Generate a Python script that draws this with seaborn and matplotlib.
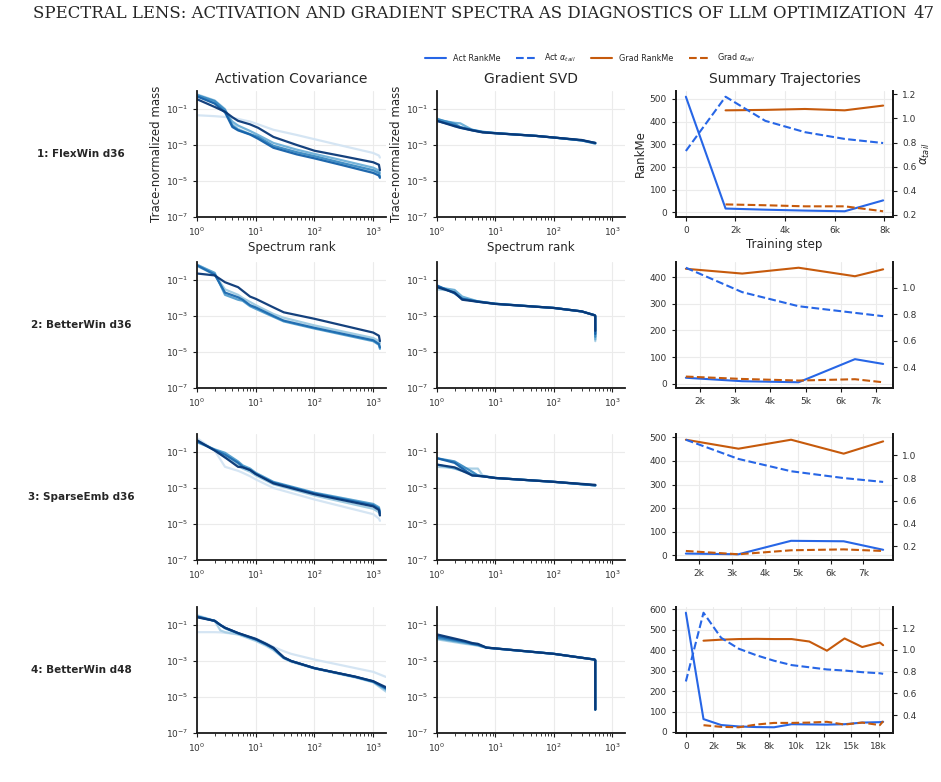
import numpy as np
import pandas as pd
import seaborn as sns
import matplotlib.pyplot as plt
from matplotlib.lines import Line2D
from matplotlib.ticker import FuncFormatter, NullLocator, MultipleLocator

# ==========================================
# Data
# ==========================================

ROW_LABELS = ["1: FlexWin d36", "2: BetterWin d36", "3: SparseEmb d36", "4: BetterWin d48"]
COL_TITLES = ["Activation Covariance", "Gradient SVD", "Summary Trajectories"]

nan = np.nan

# --- row 1 : FlexWin d36 ---
STEPS_1 = [0, 1600, 3200, 4800, 6400, 7950]
ACT_RANKME_1 = [510, 17, 12, 8, 5, 53]
ACT_ALPHA_1 = [0.73, 1.18, 0.98, 0.886, 0.83, 0.796]
GRAD_RANKME_1 = [nan, 450, 452, 456, 450, 471]
GRAD_ALPHA_1 = [nan, 0.287, 0.28, 0.271, 0.271, 0.23]

ACT_RANKS_1 = [1, 2, 3, 4, 5, 8, 11, 20, 50, 100, 300, 1000, 1250, 1300]
ACT_SPEC_1 = [
    [0.045, 0.04, 0.036, 0.032, 0.028, 0.02, 0.014, 7e-3, 3.6e-3, 2.1e-3, 9e-4, 3.6e-4, 2.6e-4, 2e-4],
    [0.65, 0.3, 0.1, 0.015, 8e-3, 4e-3, 2.6e-3, 8e-4, 3.5e-4, 2e-4, 8.5e-5, 3.2e-5, 2.2e-5, 1.6e-5],
    [0.55, 0.22, 0.07, 0.02, 0.012, 6e-3, 3.6e-3, 1.3e-3, 5.5e-4, 3.2e-4, 1.4e-4, 5.5e-5, 3.8e-5, 2.8e-5],
    [0.6, 0.28, 0.09, 0.012, 7e-3, 4e-3, 2.8e-3, 9e-4, 4e-4, 2.4e-4, 1e-4, 4e-5, 2.8e-5, 1.8e-5],
    [0.5, 0.2, 0.065, 0.01, 6.5e-3, 3.8e-3, 2.2e-3, 7e-4, 3e-4, 1.8e-4, 7.5e-5, 2.8e-5, 2e-5, 1.5e-5],
    [0.35, 0.13, 0.07, 0.035, 0.022, 0.014, 9e-3, 2.8e-3, 1e-3, 4.8e-4, 2.4e-4, 1.1e-4, 8e-5, 4e-5],
]
GRAD_RANKS_1 = [1, 2, 2.5, 4, 6, 10, 50, 100, 300, 512]
GRAD_SPEC_1 = [
    [0.03, 0.011, 0.009, 0.0065, 0.0052, 0.0046, 0.0032, 0.0026, 0.0018, 0.0012],
    [0.025, 0.017, 0.016, 0.007, 0.0055, 0.0046, 0.0032, 0.0026, 0.0018, 0.0013],
    [0.028, 0.015, 0.01, 0.007, 0.0053, 0.0046, 0.0032, 0.0026, 0.0018, 0.0012],
    [0.022, 0.012, 0.0095, 0.0066, 0.0052, 0.0045, 0.0032, 0.0026, 0.0018, 0.0013],
    [0.022, 0.011, 0.009, 0.0065, 0.005, 0.0045, 0.0032, 0.0026, 0.0019, 0.0013],
]

# --- row 2 : BetterWin d36 ---
STEPS_2 = [1600, 3200, 4800, 6400, 7200]
ACT_RANKME_2 = [22, 9, 5, 92, 74]
ACT_ALPHA_2 = [1.15, 0.966, 0.86, 0.81, 0.785]
GRAD_RANKME_2 = [432, 414, 436, 404, 430]
GRAD_ALPHA_2 = [0.33, 0.312, 0.30, 0.31, 0.287]

ACT_RANKS_2 = [1, 2, 3, 5, 6, 8, 10, 20, 30, 100, 1000, 1250, 1300]
ACT_SPEC_2 = [
    [0.75, 0.22, 0.02, 0.01, 8e-3, 4e-3, 3e-3, 1e-3, 6e-4, 2.4e-4, 4.8e-5, 3e-5, 2e-5],
    [0.6, 0.2, 0.03, 0.015, 0.01, 6e-3, 4e-3, 1.3e-3, 8e-4, 3e-4, 6e-5, 4e-5, 3e-5],
    [0.7, 0.25, 0.015, 8e-3, 7e-3, 3.5e-3, 2.5e-3, 9e-4, 5e-4, 2e-4, 4e-5, 2.5e-5, 1.5e-5],
    [0.65, 0.2, 0.02, 0.011, 8e-3, 4e-3, 3e-3, 1e-3, 5.5e-4, 2.2e-4, 4.5e-5, 2.8e-5, 1.8e-5],
    [0.23, 0.18, 0.075, 0.04, 0.025, 0.012, 9e-3, 3e-3, 1.6e-3, 7e-4, 1.2e-4, 8e-5, 4e-5],
]
GRAD_RANKS_2 = [1, 2, 2.7, 5, 10, 100, 300, 500, 511, 512]
GRAD_SPEC_2 = [
    [0.03, 0.025, 0.01, 0.0065, 0.0048, 0.0028, 0.0018, 0.0011, 0.001, 4e-5],
    [0.04, 0.028, 0.012, 0.0065, 0.0048, 0.0028, 0.0018, 0.0011, 0.001, 5e-5],
    [0.045, 0.02, 0.009, 0.0065, 0.0048, 0.0028, 0.0018, 0.0011, 0.001, 7e-5],
    [0.05, 0.018, 0.009, 0.0062, 0.0047, 0.0028, 0.0018, 0.0011, 0.001, 1e-4],
    [0.04, 0.02, 0.008, 0.0062, 0.0047, 0.0028, 0.0018, 0.0011, 0.001, 1.5e-4],
]

# --- row 3 : SparseEmb d36 ---
STEPS_3 = [1600, 3200, 4800, 6400, 7600]
ACT_RANKME_3 = [8, 5, 62, 60, 24]
ACT_ALPHA_3 = [1.137, 0.968, 0.86, 0.80, 0.766]
GRAD_RANKME_3 = [490, 452, 490, 431, 483]
GRAD_ALPHA_3 = [0.159, 0.13, 0.165, 0.173, 0.159]

ACT_RANKS_3 = [1, 2, 3, 5, 6, 8, 10, 20, 100, 1000, 1250, 1300]
ACT_SPEC_3 = [
    [0.6, 0.12, 0.015, 9e-3, 7e-3, 4.5e-3, 3e-3, 1e-3, 2.3e-4, 3.5e-5, 2e-5, 1.5e-5],
    [0.45, 0.13, 0.05, 0.02, 0.012, 8e-3, 5e-3, 1.6e-3, 3.8e-4, 7e-5, 4.5e-5, 3e-5],
    [0.35, 0.14, 0.09, 0.03, 0.018, 0.012, 7e-3, 2.2e-3, 5.5e-4, 1.3e-4, 8.5e-5, 5e-5],
    [0.4, 0.13, 0.07, 0.025, 0.015, 0.01, 6e-3, 2e-3, 5e-4, 1.1e-4, 7e-5, 4e-5],
    [0.45, 0.12, 0.05, 0.015, 0.014, 0.01, 6e-3, 1.8e-3, 4.5e-4, 9.5e-5, 6e-5, 3e-5],
]
GRAD_RANKS_3 = [1, 2, 4, 5, 6, 10, 100, 512]
GRAD_SPEC_3 = [
    [0.015, 0.013, 0.012, 0.012, 0.005, 0.0036, 0.0022, 0.0014],
    [0.02, 0.012, 0.006, 0.005, 0.0045, 0.0036, 0.0022, 0.0014],
    [0.045, 0.03, 0.008, 0.005, 0.0045, 0.0036, 0.0022, 0.0014],
    [0.045, 0.025, 0.005, 0.0047, 0.0045, 0.0036, 0.0022, 0.0014],
    [0.02, 0.014, 0.005, 0.0047, 0.0045, 0.0036, 0.0022, 0.0015],
]

# --- row 4 : BetterWin d48 ---
STEPS_4 = [0, 1600, 3200, 4800, 6400, 8000, 9600, 11200, 12800, 14400, 16000, 17600, 17900]
ACT_RANKME_4 = [584, 63, 34, 27, 24, 23, 38, 37, 36, 38, 46, 48, 50]
ACT_ALPHA_4 = [0.71, 1.34, 1.11, 1.01, 0.95, 0.90, 0.86, 0.84, 0.82, 0.81, 0.795, 0.785, 0.78]
GRAD_RANKME_4 = [nan, 447, 452, 455, 456, 455, 455, 443, 398, 458, 416, 438, 425]
GRAD_ALPHA_4 = [nan, 0.309, 0.294, 0.29, 0.315, 0.33, 0.33, 0.333, 0.34, 0.315, 0.333, 0.31, 0.345]

ACT_RANKS_4 = [1, 2, 2.5, 3, 5, 10, 15, 20, 30, 40, 100, 500, 1000, 1650]
ACT_SPEC_4 = [
    [0.04, 0.04, 0.039, 0.037, 0.03, 0.018, 0.01, 6e-3, 3.5e-3, 2.5e-3, 1.2e-3, 4e-4, 2.5e-4, 1.3e-4],
    [0.35, 0.17, 0.05, 0.04, 0.03, 0.013, 7e-3, 4e-3, 1.4e-3, 9e-4, 3.8e-4, 1.2e-4, 6.5e-5, 2e-5],
    [0.3, 0.17, 0.1, 0.065, 0.033, 0.015, 8e-3, 5e-3, 1.6e-3, 1e-3, 4e-4, 1.3e-4, 7e-5, 2.5e-5],
    [0.28, 0.17, 0.1, 0.07, 0.035, 0.016, 8.5e-3, 5e-3, 1.5e-3, 1e-3, 4e-4, 1.3e-4, 7e-5, 3e-5],
    [0.3, 0.17, 0.1, 0.07, 0.035, 0.016, 8.5e-3, 5e-3, 1.5e-3, 1e-3, 4e-4, 1.3e-4, 7.5e-5, 3e-5],
    [0.27, 0.17, 0.1, 0.07, 0.036, 0.017, 9e-3, 5.5e-3, 1.6e-3, 1e-3, 4e-4, 1.35e-4, 7.5e-5, 3.5e-5],
]
GRAD_RANKS_4 = [1, 3, 4, 5, 7, 100, 500, 511, 512]
GRAD_SPEC_4 = [
    [0.016, 0.009, 0.008, 0.007, 0.0055, 0.0025, 0.0012, 0.0011, 2e-6],
    [0.018, 0.01, 0.0085, 0.0075, 0.0055, 0.0025, 0.0012, 0.0011, 2e-6],
    [0.02, 0.011, 0.009, 0.0085, 0.0055, 0.0025, 0.0012, 0.0011, 2e-6],
    [0.025, 0.012, 0.009, 0.008, 0.0055, 0.0025, 0.0012, 0.0011, 2e-6],
    [0.03, 0.013, 0.01, 0.009, 0.0056, 0.0025, 0.0012, 0.0011, 2e-6],
]

ROWS = [
    (STEPS_1, ACT_RANKME_1, ACT_ALPHA_1, GRAD_RANKME_1, GRAD_ALPHA_1, ACT_RANKS_1, ACT_SPEC_1, GRAD_RANKS_1, GRAD_SPEC_1),
    (STEPS_2, ACT_RANKME_2, ACT_ALPHA_2, GRAD_RANKME_2, GRAD_ALPHA_2, ACT_RANKS_2, ACT_SPEC_2, GRAD_RANKS_2, GRAD_SPEC_2),
    (STEPS_3, ACT_RANKME_3, ACT_ALPHA_3, GRAD_RANKME_3, GRAD_ALPHA_3, ACT_RANKS_3, ACT_SPEC_3, GRAD_RANKS_3, GRAD_SPEC_3),
    (STEPS_4, ACT_RANKME_4, ACT_ALPHA_4, GRAD_RANKME_4, GRAD_ALPHA_4, ACT_RANKS_4, ACT_SPEC_4, GRAD_RANKS_4, GRAD_SPEC_4),
]

# tick spacing of the summary panels (per row)
STEP_TICK = [2000, 1000, 1000, 2500]

BLUE = "#2766e6"
ORANGE = "#c65a0c"
SPINE = "#1a1a1a"
GRID = "#ebebeb"

# ==========================================
# Style
# ==========================================

sns.set_style("ticks")
plt.rcParams['font.family'] = ['DejaVu Sans']
plt.rcParams['axes.edgecolor'] = SPINE
plt.rcParams['axes.linewidth'] = 1.3
plt.rcParams['xtick.color'] = SPINE
plt.rcParams['ytick.color'] = SPINE
plt.rcParams['xtick.labelcolor'] = "#333333"
plt.rcParams['ytick.labelcolor'] = "#333333"

blues = sns.color_palette("Blues", as_cmap=True)

W, H = 941, 782
fig = plt.figure(figsize=(W / 100, H / 100), dpi=100)

row_tops = [91, 262, 434, 607]
row_h = 126
col_x = [(197, 386), (437, 625), (676, 893)]

TICK_FS = 6.5
LABEL_FS = 8.5


def px_axes(x0, x1, top):
    return fig.add_axes([x0 / W, 1 - (top + row_h) / H, (x1 - x0) / W, row_h / H])


def spectrum_panel(ax, ranks, curves, lo, hi):
    frames = []
    for i, vals in enumerate(curves):
        frames.append(pd.DataFrame({"rank": ranks, "mass": vals, "ckpt": i}))
    df = pd.concat(frames, ignore_index=True)
    pal = [blues(v) for v in np.linspace(lo, hi, len(curves))]
    sns.lineplot(data=df, x="rank", y="mass", hue="ckpt", palette=pal,
                 estimator=None, sort=False, lw=1.6, alpha=0.95,
                 legend=False, ax=ax)
    ax.set_xscale("log")
    ax.set_yscale("log")
    ax.set_xlim(1, 1650)
    ax.set_ylim(1e-7, 1)
    ax.set_yticks([1e-7, 1e-5, 1e-3, 1e-1])
    ax.yaxis.set_minor_locator(NullLocator())
    ax.grid(True, which="major", color=GRID, lw=0.8)
    ax.set_axisbelow(True)
    ax.set_xlabel("")
    ax.set_ylabel("")
    ax.tick_params(labelsize=TICK_FS, length=3)
    ax.tick_params(which="minor", length=1.8)
    sns.despine(ax=ax)


def k_fmt(v, pos):
    if v == 0:
        return "0"
    return f"{v / 1000:.0f}k"


# ==========================================
# Panels
# ==========================================

for r, (steps, a_rm, a_al, g_rm, g_al, ar, aspec, gr, gspec) in enumerate(ROWS):
    top = row_tops[r]

    ax1 = px_axes(*col_x[0], top)
    spectrum_panel(ax1, ar, aspec, 0.18, 0.97)

    ax2 = px_axes(*col_x[1], top)
    spectrum_panel(ax2, gr, gspec, 0.35, 0.97)

    ax3 = px_axes(*col_x[2], top)
    tw = ax3.twinx()
    sns.lineplot(x=steps, y=a_rm, color=BLUE, lw=1.5, ax=ax3)
    sns.lineplot(x=steps, y=g_rm, color=ORANGE, lw=1.5, ax=ax3)
    sns.lineplot(x=steps, y=a_al, color=BLUE, lw=1.5, ls="--", ax=tw)
    sns.lineplot(x=steps, y=g_al, color=ORANGE, lw=1.5, ls="--", ax=tw)
    ax3.xaxis.set_major_locator(MultipleLocator(STEP_TICK[r]))
    ax3.xaxis.set_major_formatter(FuncFormatter(k_fmt))
    ax3.yaxis.set_major_locator(MultipleLocator(100))
    tw.yaxis.set_major_locator(MultipleLocator(0.2))
    ax3.grid(True, color=GRID, lw=0.8)
    ax3.set_axisbelow(True)
    for a in (ax3, tw):
        a.tick_params(labelsize=TICK_FS, length=3)
        a.spines["top"].set_visible(False)

    if r == 0:
        ax1.set_title(COL_TITLES[0], fontsize=10)
        ax2.set_title(COL_TITLES[1], fontsize=10)
        ax3.set_title(COL_TITLES[2], fontsize=10)
        for a in (ax1, ax2):
            a.set_xlabel("Spectrum rank", fontsize=LABEL_FS, labelpad=2)
            a.set_ylabel("Trace-normalized mass", fontsize=LABEL_FS, labelpad=2)
        ax3.set_xlabel("Training step", fontsize=LABEL_FS, labelpad=2)
        ax3.set_ylabel("RankMe", fontsize=LABEL_FS, labelpad=2)
        tw.set_ylabel(r"$\alpha_{tail}$", fontsize=LABEL_FS, labelpad=2)

    fig.text(81 / W, 1 - (top + row_h / 2) / H, ROW_LABELS[r],
             ha="center", va="center", fontsize=7.5, fontweight="bold")

# ==========================================
# Legend + page header
# ==========================================

handles = [
    Line2D([], [], color=BLUE, lw=1.5, label="Act RankMe"),
    Line2D([], [], color=BLUE, lw=1.5, ls="--", label=r"Act $\alpha_{tail}$"),
    Line2D([], [], color=ORANGE, lw=1.5, label="Grad RankMe"),
    Line2D([], [], color=ORANGE, lw=1.5, ls="--", label=r"Grad $\alpha_{tail}$"),
]
fig.legend(handles=handles, loc="center", bbox_to_anchor=(590 / W, 1 - 58 / H),
           ncol=4, frameon=False, fontsize=5.8, handlelength=2.6,
           handletextpad=0.8, columnspacing=2.0)

fig.text(33 / W, 1 - 13 / H,
         "SPECTRAL LENS: ACTIVATION AND GRADIENT SPECTRA AS DIAGNOSTICS OF LLM OPTIMIZATION",
         ha="left", va="center", fontsize=11.85, family="DejaVu Serif")
fig.text(934 / W, 1 - 13 / H, "47", ha="right", va="center", fontsize=11.85,
         family="DejaVu Serif")

fig.savefig("out.png", dpi=100)
